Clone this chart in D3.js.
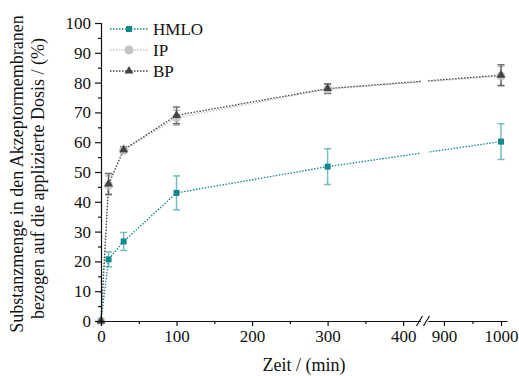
<!DOCTYPE html>
<html>
<head>
<meta charset="utf-8">
<script src="https://cdn.jsdelivr.net/npm/d3@7"></script>
<style>
body { margin: 0; background: #fff; }
</style>
</head>
<body>
<script>
// Zeitpunkte (min) und Mittelwerte / Standardabweichungen
var zeit = [0, 10, 30, 100, 300, 1000];
var hmlo = [0, 20.7, 26.7, 43, 51.8, 60.2];
var hmloErr = [0, 2.5, 3, 5.7, 6, 6];
var ip = [0, 45.5, 57.3, 68.2, 77.8, 82.2];
var ipErr = [0, 3.2, 1, 2.5, 1.5, 3.2];
var bp = [0, 46, 57.5, 69, 78, 82.5];
var bpErr = [0, 3.5, 1, 2.8, 1.6, 3.5];
var yTicks = [0, 10, 20, 30, 40, 50, 60, 70, 80, 90, 100];
var xTicksLeft = [0, 100, 200, 300, 400];
var xTicksRight = [900, 1000];

var FONT = "'Liberation Serif'";
var W = 519, H = 376;
var svg = d3.select("body").append("svg")
  .attr("width", W).attr("height", H);

var y = d3.scaleLinear().domain([0, 100]).range([321, 23]);
var xl = d3.scaleLinear().domain([0, 423]).range([101, 420.5]);
var xr = d3.scaleLinear().domain([872, 1010.5]).range([428, 507]);
function x(t) { return t <= 423 ? xl(t) : xr(t); }

var series = [
  { name: "HMLO", v: hmlo, e: hmloErr, color: "#10898a", err: "#1a9494", errOp: 0.6, shape: "square" },
  { name: "IP", v: ip, e: ipErr, color: "#c3c3c3", err: "#bdbdbd", errOp: 0.9, shape: "circle" },
  { name: "BP", v: bp, e: bpErr, color: "#444", err: "#555", errOp: 0.85, shape: "triangle" }
];

function symbolFor(s) {
  if (s.shape === "square") return d3.symbol().type(d3.symbolSquare).size(36);
  if (s.shape === "circle") return d3.symbol().type(d3.symbolCircle).size(64);
  return d3.symbol().type(d3.symbolTriangle).size(34);
}

// clip areas for the broken axis
var defs = svg.append("defs");
defs.append("clipPath").attr("id", "cl").append("rect")
  .attr("x", 95).attr("y", 0).attr("width", 421 - 95).attr("height", 330);
defs.append("clipPath").attr("id", "cr").append("rect")
  .attr("x", 428).attr("y", 0).attr("width", 90).attr("height", 330);

var line = d3.line().x(function (d, i) { return x(zeit[i]); }).y(function (d) { return y(d); });

series.forEach(function (s) {
  ["cl", "cr"].forEach(function (c) {
    svg.append("path")
      .attr("clip-path", "url(#" + c + ")")
      .attr("d", line(s.v))
      .attr("fill", "none")
      .attr("stroke", s.color)
      .attr("stroke-width", 1.3)
      .attr("stroke-dasharray", "1.5,1.5");
  });
});

// error bars
series.forEach(function (s) {
  var g = svg.append("g").attr("stroke", s.err).attr("stroke-width", 1.5).attr("opacity", s.errOp);
  zeit.forEach(function (t, i) {
    if (!s.e[i]) return;
    var cx = x(t), top = y(s.v[i] + s.e[i]), bot = y(s.v[i] - s.e[i]);
    g.append("line").attr("x1", cx).attr("x2", cx).attr("y1", top).attr("y2", bot);
    g.append("line").attr("x1", cx - 3.5).attr("x2", cx + 3.5).attr("y1", top).attr("y2", top);
    g.append("line").attr("x1", cx - 3.5).attr("x2", cx + 3.5).attr("y1", bot).attr("y2", bot);
  });
});

// markers: HMLO, then IP, then BP triangles on top
series.forEach(function (s) {
  svg.append("g").selectAll("path").data(s.v).enter().append("path")
    .attr("d", symbolFor(s))
    .attr("transform", function (d, i) { return "translate(" + x(zeit[i]) + "," + y(d) + ")"; })
    .attr("fill", s.color)
    .attr("opacity", s.shape === "circle" ? 0.85 : 1);
});

// axes
var yAxis = d3.axisLeft(y).tickValues(yTicks).tickSize(6).tickPadding(4);
svg.append("g").attr("transform", "translate(101,0)").call(yAxis);
var yMinor = d3.axisLeft(y).tickValues(d3.range(5, 100, 10)).tickSize(3).tickFormat("");
svg.append("g").attr("transform", "translate(101,0)").call(yMinor).select(".domain").remove();

var fmt = d3.format("d");
svg.append("g").attr("transform", "translate(0,321)")
  .call(d3.axisBottom(xl).tickValues(xTicksLeft).tickFormat(fmt).tickSize(5).tickPadding(4).tickSizeOuter(0));
svg.append("g").attr("transform", "translate(0,321)")
  .call(d3.axisBottom(xl).tickValues([50, 150, 250, 350]).tickSize(3).tickFormat(""))
  .select(".domain").remove();
svg.append("g").attr("transform", "translate(0,321)")
  .call(d3.axisBottom(xr).tickValues(xTicksRight).tickFormat(fmt).tickSize(5).tickPadding(4).tickSizeOuter(0));
svg.append("g").attr("transform", "translate(0,321)")
  .call(d3.axisBottom(xr).tickValues([950]).tickSize(3).tickFormat(""))
  .select(".domain").remove();

svg.selectAll(".tick text").attr("font-size", 17).attr("fill", "#111");
svg.selectAll(".domain, .tick line").attr("stroke", "#111").attr("stroke-width", 1.2);

// break marks
svg.append("g").attr("stroke", "#111").attr("stroke-width", 1.2).selectAll("line")
  .data([419, 426]).enter().append("line")
  .attr("x1", function (d) { return d - 2.5; }).attr("x2", function (d) { return d + 3.5; })
  .attr("y1", 326).attr("y2", 316);

// axis titles
svg.append("text").attr("x", 304).attr("y", 371).attr("text-anchor", "middle")
  .attr("font-size", 18).attr("fill", "#111").text("Zeit / (min)");
svg.append("text").attr("transform", "translate(23,174) rotate(-90)").attr("text-anchor", "middle")
  .attr("font-size", 18).attr("fill", "#111").text("Substanzmenge in den Akzeptormembranen");
svg.append("text").attr("transform", "translate(44,178.5) rotate(-90)").attr("text-anchor", "middle")
  .attr("font-size", 18).attr("fill", "#111").text("bezogen auf die applizierte Dosis / (%)");

// legend
var leg = svg.append("g");
series.forEach(function (s, i) {
  var ly = 29 + i * 21;
  leg.append("line").attr("x1", 110).attr("x2", 148).attr("y1", ly).attr("y2", ly)
    .attr("stroke", s.color).attr("stroke-width", 1.3).attr("stroke-dasharray", "1.5,1.5");
  leg.append("path").attr("d", symbolFor(s)).attr("transform", "translate(129," + ly + ")")
    .attr("fill", s.color);
  leg.append("text").attr("x", 153).attr("y", ly + 6).attr("font-size", 17).attr("fill", "#111").text(s.name);
});

svg.selectAll("text").style("font-family", FONT);
</script>
</body>
</html>
